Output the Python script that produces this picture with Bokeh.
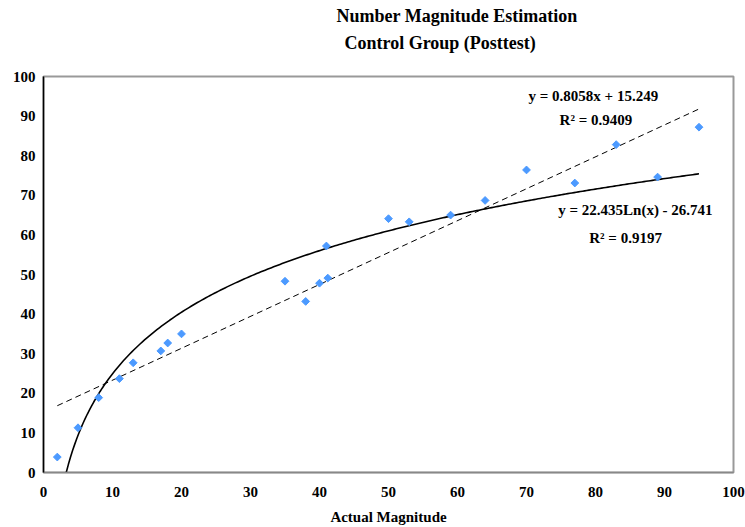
import numpy as np
from bokeh.plotting import figure
from bokeh.models import Label, Title, Range1d, FixedTicker
from bokeh.embed import file_html
from bokeh.resources import INLINE

actual = [2, 5, 8, 11, 13, 17, 18, 20, 35, 38, 40, 41, 41.2, 50, 53, 59, 64, 70, 77, 83, 89, 95]
estimated = [3.9, 11.3, 18.9, 23.7, 27.7, 30.7, 32.7, 35.0, 48.3, 43.2, 47.8, 57.2, 49.1,
             64.1, 63.3, 65.0, 68.7, 76.4, 73.1, 82.8, 74.6, 87.2]

lin_slope, lin_icept = 0.8058, 15.249
log_coef, log_icept = 22.435, -26.741
title_1 = "Number Magnitude Estimation"
title_2 = "Control Group (Posttest)"
lin_eq = "y = 0.8058x + 15.249"
lin_r2 = "R\u00b2 = 0.9409"
log_eq = "y = 22.435Ln(x) - 26.741"
log_r2 = "R\u00b2 = 0.9197"
x_ticks = [0, 10, 20, 30, 40, 50, 60, 70, 80, 90, 100]
y_ticks = [0, 10, 20, 30, 40, 50, 60, 70, 80, 90, 100]

FONT = "Liberation Serif"

p = figure(width=745, height=527, output_backend="svg", toolbar_location=None,
           x_range=Range1d(0, 100), y_range=Range1d(0, 100),
           min_border_left=43, min_border_right=12, min_border_top=76, min_border_bottom=55)
p.title.visible = False

ttl_kw = dict(text_font=FONT, text_font_size="18px", text_font_style="bold",
              text_color="black", align="left")
t2 = Title(text=title_2, offset=301, standoff=47, **ttl_kw)
t1 = Title(text=title_1, offset=293, standoff=-37, **ttl_kw)
p.add_layout(t2, "above")
p.add_layout(t1, "above")

p.xgrid.visible = False
p.ygrid.visible = False
p.outline_line_color = "#999999"
p.outline_line_width = 2

for ax in (p.xaxis[0], p.yaxis[0]):
    ax.major_tick_in = 0
    ax.major_tick_out = 0
    ax.minor_tick_in = 0
    ax.minor_tick_out = 0
    ax.major_label_text_font = FONT
    ax.major_label_text_font_size = "15px"
    ax.major_label_text_font_style = "bold"
    ax.major_label_text_color = "black"
p.xaxis.ticker = FixedTicker(ticks=x_ticks)
p.yaxis.ticker = FixedTicker(ticks=y_ticks)
p.yaxis.axis_line_color = "black"
p.yaxis.axis_line_width = 1.5
p.yaxis.major_label_standoff = 8
p.xaxis.axis_line_color = "#888888"
p.xaxis.axis_line_width = 1.5
p.xaxis.major_label_standoff = 14
p.xaxis.axis_label = "Actual Magnitude"
p.xaxis.axis_label_text_font = FONT
p.xaxis.axis_label_text_font_size = "15px"
p.xaxis.axis_label_text_font_style = "bold"
p.xaxis.axis_label_text_color = "black"
p.xaxis.axis_label_standoff = 9

# linear trendline
lx = np.array([min(actual), max(actual)])
p.line(lx, lin_slope * lx + lin_icept, line_color="black", line_width=1, line_dash="6 4")

# logarithmic trendline (clipped at y = 0)
x0 = np.exp(-log_icept / log_coef)
gx = np.linspace(x0, max(actual), 300)
p.line(gx, log_coef * np.log(gx) + log_icept, line_color="black", line_width=1.6)

p.scatter(actual, estimated, marker="square", angle=np.pi / 4, size=5.5,
          fill_color="#4C9AFF", line_color="#4C9AFF")

lab_kw = dict(text_font=FONT, text_font_size="15px", text_font_style="bold",
              text_baseline="middle", text_color="black")
p.add_layout(Label(x=70.3, y=95.0, text=lin_eq, **lab_kw))
p.add_layout(Label(x=74.8, y=88.9, text=lin_r2, **lab_kw))
p.add_layout(Label(x=74.6, y=66.2, text=log_eq, **lab_kw))
p.add_layout(Label(x=79.1, y=59.3, text=log_r2, **lab_kw))

open("out.html", "w").write(file_html(p, INLINE))
